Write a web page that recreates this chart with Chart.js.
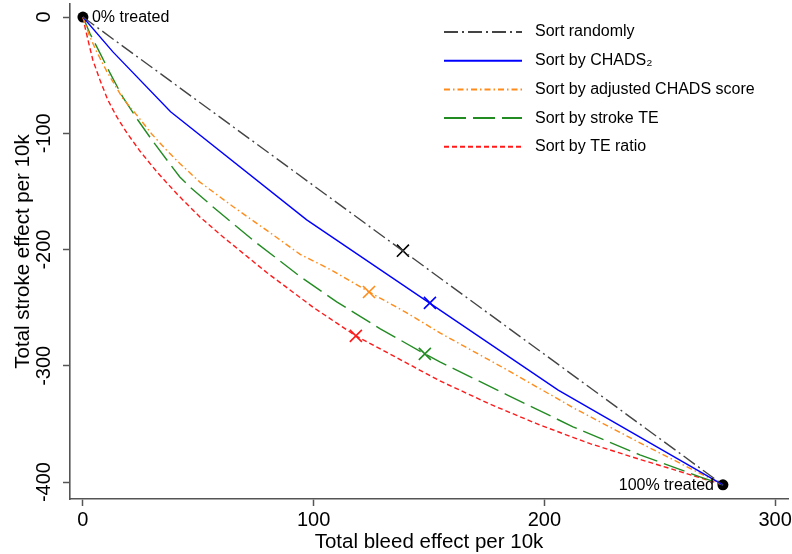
<!DOCTYPE html>
<html>
<head>
<meta charset="utf-8">
<title>Stroke vs bleed effect</title>
<script src="https://cdn.jsdelivr.net/npm/chart.js@4.4.0/dist/chart.umd.min.js"></script>
<style>
  html, body { margin: 0; padding: 0; background: #fff; }
  #wrap { width: 792px; height: 554px; position: relative; }
</style>
</head>
<body>
<div id="wrap"><canvas id="myChart"></canvas></div>
<script>
// curves: total bleed effect (x) vs total stroke effect (y), per 10k
const randomX = [0, 277.4];
const randomY = [0, -402.4];

const chadsX = [0, 13, 38, 97, 206, 277.4];
const chadsY = [0, -30, -81.5, -174.5, -321, -402.4];

const adjX = [0, 3, 6, 10.4, 17.3, 24, 30, 36, 42, 50.7, 65, 80, 94, 108, 124, 140, 154.7, 183.8, 212.4, 241.4, 264.4, 277.4];
const adjY = [0, -17, -30, -47, -70, -86, -101, -114, -126, -142, -163, -184, -204, -218, -236.5, -254, -271.7, -303.5, -336, -366.3, -389.5, -402.4];

const strokeX = [0, 3, 7.4, 11.7, 17.3, 23.8, 29.9, 36.4, 42, 46.4, 56.4, 75, 94, 110, 128.7, 148.2, 154.7, 183.8, 212.4, 241.4, 267.4, 277.4];
const strokeY = [0, -14, -31, -48, -69, -88.6, -105.8, -123, -137.6, -146.2, -163.4, -194, -223, -245, -268, -289.8, -296.6, -325, -352.5, -376.6, -395.5, -402.4];

const ratioX = [0, 0.9, 2.2, 4.3, 7.4, 10.8, 14.7, 19.1, 24.7, 32.1, 40.8, 50.7, 60, 79.8, 100, 118.3, 135, 154.7, 176.4, 198.1, 219.8, 241.4, 258.8, 277.4];
const ratioY = [0, -8.6, -19.8, -37, -54.2, -71.4, -86, -99.8, -115.3, -133.3, -152.3, -172, -188, -220, -250, -274.3, -292, -313, -333, -351, -367, -380.5, -391, -402.4];

// half-treated points (X marks)
const markX = [138.7, 150.4, 124, 148.2, 118.3];
const markY = [-201, -245.9, -236.5, -289.8, -274.3];

// 0% / 100% treated end points
const endX = [0, 277.4];
const endY = [0, -402.4];
const endLabels = ['0% treated', '100% treated'];

const seriesNames = ['Sort randomly', 'Sort by CHADS\u2082', 'Sort by adjusted CHADS score', 'Sort by stroke TE', 'Sort by TE ratio'];
const colors = ['#444444', '#0000ff', '#ff8c1a', '#228b22', '#ff1a1a'];
const markColors = ['#000000', '#0000ff', '#ff8c1a', '#228b22', '#ff1a1a'];
const dashes = [[14, 4, 2, 4], [], [6, 3, 1.5, 3], [22, 7], [5, 3]];

const xTicks = [0, 100, 200, 300];
const yTicks = [0, -100, -200, -300, -400];

const FONT = "'Liberation Sans', Arial, sans-serif";

function pts(xs, ys) {
  return xs.map((x, i) => ({ x: x, y: ys[i] }));
}

const lineData = [
  pts(randomX, randomY),
  pts(chadsX, chadsY),
  pts(adjX, adjY),
  pts(strokeX, strokeY),
  pts(ratioX, ratioY)
];

const datasets = lineData.map((d, i) => ({
  label: seriesNames[i],
  data: d,
  showLine: true,
  inLegend: true,
  borderColor: colors[i],
  borderWidth: 1.4,
  borderDash: dashes[i],
  pointRadius: 0,
  tension: 0,
  fill: false
}));

datasets.push({
  label: 'half',
  data: pts(markX, markY),
  pointStyle: 'crossRot',
  pointRadius: 8.5,
  pointBorderWidth: 1.6,
  pointBorderColor: markColors,
  pointBackgroundColor: markColors,
  showLine: false
});

datasets.push({
  label: 'ends',
  data: pts(endX, endY),
  pointStyle: 'circle',
  pointRadius: 5.5,
  pointBorderWidth: 0,
  pointBackgroundColor: '#000',
  pointBorderColor: '#000',
  showLine: false
});

// legend drawn inside the plot, top right
const legendBox = {
  id: 'legendBox',
  afterDraw(chart) {
    const ctx = chart.ctx;
    const x1 = 444, x2 = 522, tx = 535, y0 = 32, step = 28.7;
    ctx.save();
    ctx.font = '16px ' + FONT;
    ctx.textBaseline = 'middle';
    ctx.textAlign = 'left';
    let row = 0;
    chart.data.datasets.forEach(ds => {
      if (!ds.inLegend) return;
      const y = y0 + row * step;
      ctx.strokeStyle = ds.borderColor;
      ctx.lineWidth = 2;
      ctx.setLineDash(ds.borderDash);
      ctx.beginPath();
      ctx.moveTo(x1, y);
      ctx.lineTo(x2, y);
      ctx.stroke();
      ctx.setLineDash([]);
      ctx.fillStyle = '#000';
      ctx.fillText(ds.label, tx, y);
      row++;
    });
    ctx.restore();
  }
};

// "0% treated" / "100% treated" next to the end dots
const endNotes = {
  id: 'endNotes',
  afterDraw(chart) {
    const ctx = chart.ctx;
    const xs = chart.scales.x, ys = chart.scales.y;
    ctx.save();
    ctx.font = '16px ' + FONT;
    ctx.fillStyle = '#000';
    ctx.textBaseline = 'middle';
    endLabels.forEach((t, i) => {
      const px = xs.getPixelForValue(endX[i]);
      const py = ys.getPixelForValue(endY[i]);
      if (i === 0) {
        ctx.textAlign = 'left';
        ctx.fillText(t, px + 9, py + 1);
      } else {
        ctx.textAlign = 'right';
        ctx.fillText(t, px - 9, py + 1);
      }
    });
    ctx.restore();
  }
};

const config = {
  type: 'scatter',
  data: { datasets: datasets },
  plugins: [legendBox, endNotes],
  options: {
    responsive: true,
    maintainAspectRatio: false,
    animation: false,
    devicePixelRatio: 1,
    layout: { autoPadding: false, padding: { top: 4, right: 4, left: 0, bottom: 0 } },
    plugins: {
      legend: { display: false },
      tooltip: { enabled: false }
    },
    scales: {
      x: {
        type: 'linear',
        min: -5.6,
        max: 305.6,
        afterBuildTicks: s => { s.ticks = xTicks.map(v => ({ value: v })); },
        afterFit: s => { s.height = 55; s.paddingLeft = 0; s.paddingRight = 0; },
        ticks: {
          color: '#000',
          font: { family: FONT, size: 20 },
          padding: 2,
          maxRotation: 0,
          callback: v => String(v)
        },
        grid: { drawOnChartArea: false, drawTicks: true, tickLength: 7, tickWidth: 1.5, tickColor: '#555' },
        border: { display: true, color: '#555', width: 1.6 },
        title: {
          display: true,
          text: 'Total bleed effect per 10k',
          color: '#000',
          font: { family: FONT, size: 20.5 },
          padding: { top: 0, bottom: -1 }
        }
      },
      y: {
        type: 'linear',
        min: -414.6,
        max: 11.2,
        afterBuildTicks: s => { s.ticks = yTicks.map(v => ({ value: v })); },
        afterFit: s => { s.width = 70; s.paddingTop = 0; s.paddingBottom = 0; },
        ticks: {
          color: '#000',
          font: { family: FONT, size: 20 },
          minRotation: 90,
          maxRotation: 90,
          crossAlign: 'center',
          padding: -1,
          callback: v => String(v)
        },
        grid: { drawOnChartArea: false, drawTicks: true, tickLength: 7, tickWidth: 1.5, tickColor: '#555' },
        border: { display: true, color: '#555', width: 1.6 },
        title: {
          display: true,
          text: 'Total stroke effect per 10k',
          color: '#000',
          font: { family: FONT, size: 20.5 },
          padding: { top: 11, bottom: 0 }
        }
      }
    }
  }
};

const myChart = new Chart(document.getElementById('myChart'), config);
</script>
</body>
</html>
